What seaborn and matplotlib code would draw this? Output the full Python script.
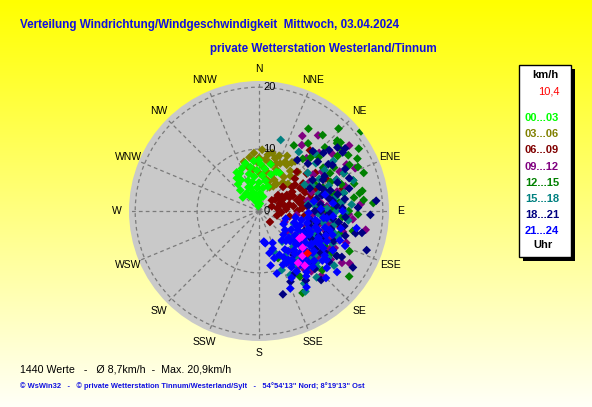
import numpy as np
import pandas as pd
import seaborn as sns
import matplotlib.pyplot as plt
from matplotlib.patches import Rectangle

# wind direction (deg) / speed (km/h) per 3h block
lime_dir = [322, 318, 325, 330, 333, 336, 338, 340, 342, 344, 345, 347, 349, 350, 352, 354, 355, 357, 358, 0,
            2, 3, 5, 7, 8, 10, 12, 14, 16, 18, 20, 24, 28, 335, 328, 346, 352, 340, 330, 310, 326, 0]
lime_spd = [5.5, 4.5, 3.5, 5.8, 6.8, 4.2, 7.4, 5.2, 3.2, 8.0, 6.2, 4.8, 7.2, 2.6, 5.6, 8.1, 3.8, 6.6, 1.8, 4.6,
            7.6, 2.9, 5.8, 1.2, 6.9, 3.8, 5.0, 7.8, 2.4, 6.2, 4.2, 6.9, 7.0, 2.2, 2.8, 1.4, 0.8, 4.0, 7.2, 3.4, 6.4, 8.2]

olive_dir = [343, 346, 350, 352, 355, 358, 0, 3, 5, 7, 9, 11, 13, 15, 17, 19, 20, 22, 24, 26,
             27, 29, 31, 33, 34, 36, 38, 40, 42, 45, 47, 30, 24, 18, 10, 2, 12, 20, 28, 36]
olive_spd = [8.3, 7.4, 8.8, 6.8, 9.4, 7.9, 8.6, 9.9, 7.2, 8.4, 9.2, 6.5, 9.6, 7.8, 8.9, 6.2, 9.5, 7.3, 8.4, 5.6,
             10.0, 7.0, 8.7, 5.2, 9.4, 6.8, 8.2, 6.0, 7.6, 8.9, 6.4, 4.6, 4.2, 5.0, 5.4, 6.0, 8.0, 8.2, 9.0, 9.9]

maroon_dir = [50, 74, 60, 61, 40, 52, 45, 135, 55, 65, 70, 78, 82, 86, 90, 94, 80, 72, 66, 58,
              48, 44, 54, 62, 68, 76, 84, 88, 100, 104, 96, 70, 56, 64, 80, 92, 110, 75, 100, 58,
              58, 62, 66, 70, 74, 78, 82, 86, 50, 54, 60, 64, 68, 72, 76]
maroon_spd = [2.7, 3.5, 5.2, 7.6, 12.8, 9.8, 5.5, 2.5, 3.2, 4.0, 2.2, 5.0, 3.0, 4.4, 6.2, 3.6, 6.8, 7.0, 6.0, 8.4,
              7.8, 8.8, 6.6, 9.2, 8.0, 8.6, 7.8, 9.4, 5.0, 3.0, 7.4, 10.0, 11.0, 12.0, 11.5, 10.6, 9.0, 14.0, 13.0, 4.4,
              3.8, 4.6, 5.4, 3.6, 6.4, 4.2, 5.6, 7.0, 4.0, 7.2, 6.2, 8.0, 9.2, 8.8, 7.4]

purple_dir = [33, 42, 95, 122, 139, 116, 140, 113, 96, 120, 30, 38, 46, 52, 58, 64, 70, 76, 82, 88,
              92, 100, 104, 108, 112, 118, 124, 128, 132, 136, 144, 150, 86, 66, 54, 100, 78, 60, 126, 146,
              70, 80, 90, 98, 106, 114, 122, 130, 74, 84, 94, 102, 110, 118,
              56, 62, 68, 86, 92, 108, 116, 124, 134, 142]
purple_spd = [12.7, 11.5, 15.2, 15.8, 12.9, 13.6, 8.2, 4.5, 6.1, 16.9, 14.0, 15.5, 13.5, 15.0, 12.0, 14.5, 11.0, 13.0, 10.0, 12.5,
              9.0, 11.5, 14.0, 9.5, 12.0, 10.5, 8.5, 12.0, 10.0, 14.5, 11.0, 9.5, 16.5, 17.0, 18.0, 17.5, 8.0, 9.5, 6.0, 13.5,
              9.0, 12.0, 10.5, 13.0, 11.0, 10.0, 13.0, 11.5, 14.5, 13.5, 8.5, 10.0, 15.0, 13.0,
              10.5, 16.0, 13.5, 11.0, 14.5, 8.0, 11.5, 14.0, 9.5, 12.0]

green_dir = [31, 52, 48, 50, 62, 70, 79, 46, 49, 63, 48, 126, 158, 133, 36, 40, 44, 55, 58, 66,
             74, 82, 86, 56, 60, 68, 72, 76, 84, 90, 96, 102, 108, 114, 118, 124, 130, 140, 148, 152,
             40, 64, 28, 90, 110, 62, 70, 78, 86, 94, 100, 106, 112, 120, 128, 80, 88,
             44, 52, 58, 66, 72, 78, 84, 92]
green_spd = [15.5, 20.9, 17.0, 17.2, 18.0, 18.0, 17.0, 14.8, 16.7, 16.4, 13.0, 18.0, 8.2, 14.0, 13.5, 16.0, 18.5, 15.5, 19.0, 15.0,
             16.0, 15.5, 18.5, 12.5, 14.0, 12.5, 14.0, 11.5, 13.0, 14.5, 12.0, 15.5, 13.0, 16.0, 12.0, 10.5, 11.5, 10.0, 12.5, 15.0,
             11.0, 10.0, 12.0, 11.0, 10.0, 13.0, 11.0, 14.0, 10.0, 13.5, 10.5, 13.5, 9.5, 13.5, 9.0, 16.5, 12.0,
             12.0, 16.5, 17.0, 17.5, 16.0, 12.5, 17.0, 16.0]

teal_dir = [17, 148, 139, 143, 159, 100, 91, 44, 34, 50, 56, 62, 68, 74, 80, 84, 88, 94, 98, 104,
            108, 112, 116, 120, 124, 128, 132, 136, 140, 144, 150, 154, 130, 120, 86, 72, 150, 160, 110, 96,
            60, 134, 146, 126, 64, 70, 78, 82, 90, 96, 102, 106, 114, 118, 122, 128, 136,
            52, 58, 66, 76, 84, 92, 100, 108, 116, 124, 132, 140]
teal_spd = [12.0, 13.8, 14.2, 6.2, 10.2, 12.4, 13.9, 13.0, 11.5, 12.0, 14.5, 11.0, 13.5, 10.0, 12.5, 9.0, 11.0, 10.0, 8.0, 11.0,
            13.5, 9.5, 11.5, 7.5, 12.5, 9.0, 11.0, 8.0, 12.0, 9.5, 8.5, 11.5, 6.5, 14.5, 15.0, 16.0, 15.0, 7.0, 6.0, 14.5,
            8.5, 13.0, 10.5, 15.0, 9.5, 12.0, 14.0, 8.0, 12.5, 11.5, 9.5, 12.5, 13.0, 8.5, 10.0, 11.5, 10.5,
            10.0, 12.5, 15.0, 11.0, 13.5, 9.5, 10.5, 8.5, 10.0, 13.5, 12.5, 10.0]

navy_dir = [85, 103, 121, 150, 102, 119, 37, 54, 51, 49, 50, 55, 42, 46, 58, 62, 64, 68, 70, 74,
            76, 78, 80, 82, 84, 86, 88, 90, 92, 94, 96, 98, 100, 104, 106, 108, 112, 114, 118, 122,
            126, 130, 134, 138, 142, 146, 156, 164, 92, 110, 60, 66, 72, 78, 84, 90, 96, 102, 108, 114,
            120, 124, 130, 136, 48, 56, 64, 70, 76, 82, 88, 94, 100, 106, 112, 118, 124]
navy_spd = [19.0, 16.0, 17.7, 11.6, 17.0, 15.3, 10.3, 17.2, 16.3, 15.0, 12.4, 16.5, 13.0, 11.0, 14.0, 12.0, 15.5, 10.5, 13.5, 12.0,
            15.0, 9.5, 11.5, 14.0, 10.0, 12.5, 16.0, 9.0, 11.5, 14.0, 10.5, 13.0, 8.5, 12.0, 14.5, 10.0, 13.0, 11.0, 9.5, 12.5,
            14.0, 10.5, 12.0, 15.0, 9.0, 13.5, 12.5, 14.0, 18.0, 18.5, 10.0, 9.0, 11.0, 13.0, 8.0, 10.0, 12.0, 9.5, 11.5, 8.0,
            14.5, 11.0, 9.0, 13.0, 14.0, 13.5, 11.5, 15.5, 10.5, 12.0, 13.5, 11.0, 14.0, 8.5, 10.5, 13.5, 12.0]

blue_dir = [171, 169, 157, 155, 149, 147, 135, 130, 139, 109, 115, 119, 129, 130, 124, 99, 105, 126, 110, 100,
            104, 108, 112, 114, 116, 118, 120, 122, 124, 126, 128, 132, 134, 136, 138, 140, 142, 144, 146, 150,
            152, 154, 156, 160, 162, 164, 166, 168, 142, 134, 118, 106, 96, 92, 88, 84, 80, 76, 102, 112,
            128, 100, 148, 158, 90, 102, 106, 110, 114, 120, 124, 128, 132, 136, 140, 144, 148, 152, 110, 118,
            126, 134, 142, 98, 94, 100, 104, 108, 112, 116, 120, 124, 128, 132, 136, 140, 116, 122, 130, 138,
            146, 108, 96]
blue_spd = [5.0, 5.3, 5.6, 7.8, 9.2, 10.0, 15.3, 14.3, 11.2, 7.0, 9.0, 11.2, 7.5, 9.7, 12.8, 9.2, 11.8, 5.2, 13.9, 6.0,
            8.0, 10.0, 6.5, 12.0, 8.0, 13.5, 6.0, 10.0, 7.0, 11.0, 13.0, 8.0, 10.5, 12.5, 6.5, 9.0, 11.0, 13.0, 7.5, 10.5,
            8.5, 12.0, 9.5, 6.5, 8.0, 10.5, 7.0, 9.0, 6.0, 5.5, 4.5, 4.5, 11.0, 8.0, 10.0, 12.0, 9.0, 11.0, 13.5, 15.0,
            16.0, 16.0, 14.5, 13.5, 13.5, 7.0, 9.5, 8.5, 10.5, 8.5, 9.0, 7.5, 12.0, 9.5, 10.5, 8.0, 11.5, 9.5, 11.5, 10.5,
            13.5, 7.0, 12.5, 8.0, 12.0, 9.5, 11.0, 6.0, 9.0, 11.0, 12.0, 10.0, 11.0, 6.5, 11.5, 12.0, 7.0, 8.0, 8.5, 8.5,
            9.5, 12.5, 10.5]

magenta_dir = [143, 136, 121, 124, 140, 130]
magenta_spd = [10.5, 10.1, 8.1, 7.9, 11.5, 9.2]
current_dir = [131]
current_spd = [10.4]

hour_labels = ['00...03', '03...06', '06...09', '09...12', '12...15', '15...18', '18...21', '21...24']
hour_colors = ['#00FF00', '#808000', '#800000', '#800080', '#008000', '#008080', '#000080', '#0000FF']

compass = ['N', 'NNE', 'NE', 'ENE', 'E', 'ESE', 'SE', 'SSE',
           'S', 'SSW', 'SW', 'WSW', 'W', 'WNW', 'NW', 'NNW']

# drawing order: later blocks on top
groups = [('03...06', olive_dir, olive_spd), ('00...03', lime_dir, lime_spd),
          ('06...09', maroon_dir, maroon_spd), ('09...12', purple_dir, purple_spd),
          ('12...15', green_dir, green_spd), ('15...18', teal_dir, teal_spd),
          ('18...21', navy_dir, navy_spd), ('21...24', blue_dir, blue_spd),
          ('last', magenta_dir, magenta_spd), ('now', current_dir, current_spd)]
rows = []
for name, d, s in groups:
    for a, b in zip(d, s):
        rows.append({'theta': np.deg2rad(a), 'speed': b, 'block': name})
df = pd.DataFrame(rows)
pal = dict(zip(hour_labels, hour_colors))
pal['last'] = '#FF00FF'
pal['now'] = '#FF0000'

W, H = 592, 407
def fx(x):
    return x / W
def fy(y):
    return 1 - y / H

fig = plt.figure(figsize=(W / 100, H / 100), dpi=100)

# yellow -> pale background
bg = fig.add_axes([0, 0, 1, 1], zorder=-5)
t = np.linspace(0, 1, 256)
grad = np.zeros((256, 1, 3))
grad[:, 0, 0] = 1.0
grad[:, 0, 1] = 1.0
grad[:, 0, 2] = t * 0.97
bg.imshow(grad, aspect='auto', extent=[0, 1, 0, 1])
bg.axis('off')

cx, cy, R = 259, 211, 130
ax = fig.add_axes([fx(cx - R), fy(cy + R), 2 * R / W, 2 * R / H], projection='polar')
ax.set_theta_zero_location('N')
ax.set_theta_direction(-1)
ax.set_facecolor('#C9C9C9')
ax.spines['polar'].set_visible(False)
ax.set_ylim(0, 21)
ax.set_yticks([10, 20])
ax.set_yticklabels([])
ax.set_xticks(np.deg2rad(np.arange(0, 360, 22.5)))
ax.set_xticklabels([])
ax.grid(True, color='#7A7A7A', linestyle=(0, (3, 2.5)), linewidth=0.9)

sns.scatterplot(data=df, x='theta', y='speed', hue='block', palette=pal, marker='D',
                s=20, linewidth=0, legend=False, ax=ax, zorder=3)
ax.set_xlabel('')
ax.set_ylabel('')

for i, lab in enumerate(compass):
    ax.text(np.deg2rad(i * 22.5), 22.9, lab, ha='center', va='center', fontsize=7.5,
            family='Liberation Sans', clip_on=False)
for r in [0, 10, 20]:
    ax.annotate(str(r), xy=(0, r), xytext=(3, 0), textcoords='offset points',
                ha='left', va='center', fontsize=8, family='Liberation Sans', zorder=4)

blue = '#1010E0'
fig.text(fx(20), fy(25), 'Verteilung Windrichtung/Windgeschwindigkeit  Mittwoch, 03.04.2024',
         color=blue, fontsize=8.4, fontweight='bold', family='Liberation Sans',
         ha='left', va='center')
fig.text(fx(210), fy(49), 'private Wetterstation Westerland/Tinnum',
         color=blue, fontsize=8.4, fontweight='bold', family='Liberation Sans',
         ha='left', va='center')
fig.text(fx(20), fy(370), '1440 Werte   -   Ø 8,7km/h  -  Max. 20,9km/h',
         color='black', fontsize=7.7, family='Liberation Sans', ha='left', va='center')
fig.text(fx(20), fy(386), '© WsWin32   -   © private Wetterstation Tinnum/Westerland/Sylt   -   54°54\'13" Nord; 8°19\'13" Ost',
         color=blue, fontsize=5.4, fontweight='bold', family='Liberation Sans', ha='left', va='center')

# legend box with shadow
bx0, by0, bx1, by1 = 519, 65, 571, 257
fig.add_artist(Rectangle((fx(bx0 + 4), fy(by1 + 4)), (bx1 - bx0) / W, (by1 - by0) / H,
                         transform=fig.transFigure, facecolor='black', edgecolor='none', zorder=1))
fig.add_artist(Rectangle((fx(bx0), fy(by1)), (bx1 - bx0) / W, (by1 - by0) / H,
                         transform=fig.transFigure, facecolor='white', edgecolor='black', linewidth=1, zorder=2))
fig.text(fx(545), fy(75), 'km/h', fontsize=8, fontweight='bold', family='Liberation Sans',
         ha='center', va='center', zorder=3)
fig.text(fx(560), fy(92), '10,4', fontsize=8, color='red', family='Liberation Sans',
         ha='right', va='center', zorder=3)
for i, (lab, col) in enumerate(zip(hour_labels, hour_colors)):
    fig.text(fx(542), fy(118 + i * 16.2), lab, fontsize=8, fontweight='bold', color=col,
             family='Liberation Sans', ha='center', va='center', zorder=3)
fig.text(fx(543), fy(245), 'Uhr', fontsize=8, fontweight='bold', family='Liberation Sans',
         ha='center', va='center', zorder=3)

fig.savefig('out.png', dpi=100)
